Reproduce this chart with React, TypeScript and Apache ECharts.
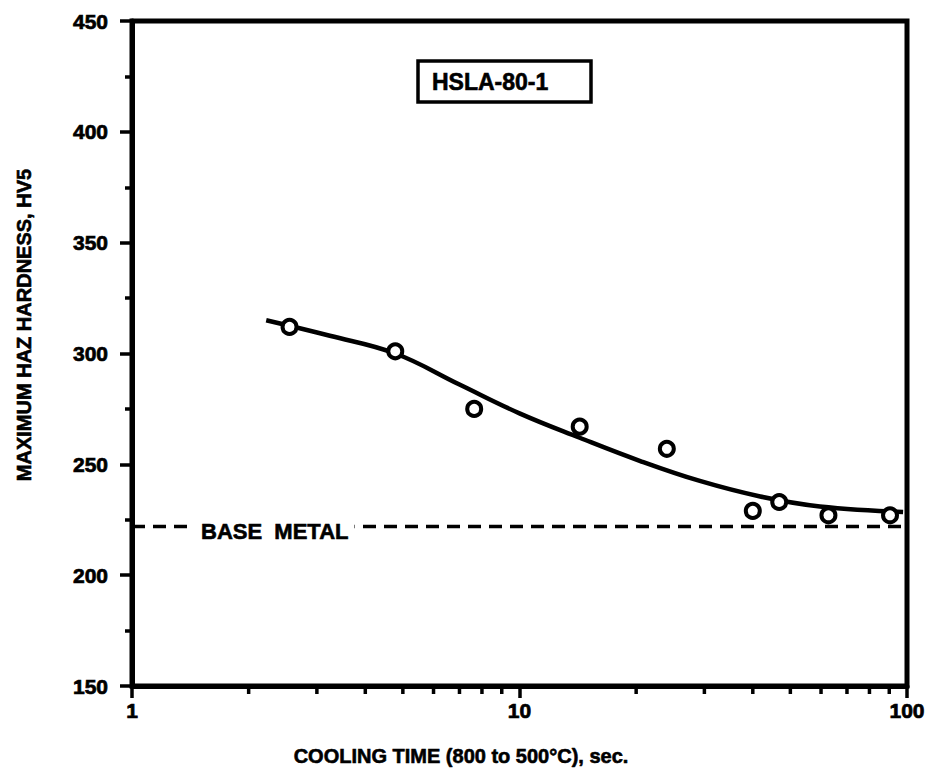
import React, { useEffect, useRef } from "react";
import * as echarts from "echarts";

// Measured data points (cooling time s, hardness HV5)
const pointX = [2.55, 4.78, 7.64, 14.3, 24.0, 40.0, 46.8, 62.7, 90.4];
const pointY = [312, 301, 275, 267, 257, 229, 233, 227, 227];

// Fitted trend curve
const curveX = [2.22, 3.24, 4.78, 7.0, 10.0, 14.3, 20.5, 29.2, 41.8, 59.6, 97.7];
const curveY = [315, 308, 300, 286, 273, 262, 251.5, 242.5, 235.5, 231, 228.5];

// Base metal hardness level
const baseMetalX = [1, 100];
const baseMetalY = [222, 222];

// Axis settings
const xMin = 1;
const xMax = 100;
const xMinorTicks = [2, 3, 4, 5, 6, 7, 8, 9, 20, 30, 40, 50, 60, 70, 80, 90];
const yMin = 150;
const yMax = 450;
const yInterval = 50;

// Texts
const xAxisTitle = "COOLING TIME (800 to 500°C), sec.";
const yAxisTitle = "MAXIMUM HAZ HARDNESS, HV5";
const boxLabel = "HSLA-80-1";
const baseLabel = "BASE  METAL";

const FONT = '"Liberation Sans", Arial, Helvetica, sans-serif';

export default function App() {
  const ref = useRef<HTMLDivElement>(null);

  useEffect(() => {
    document.body.style.margin = "0";
    if (!ref.current) return;
    const chart = echarts.init(ref.current, null, { renderer: "svg" });

    const black = "#000";
    const heavy = { textBorderColor: black, textBorderWidth: 0.7 };
    const option: any = {
      animation: false,
      backgroundColor: "#fff",
      grid: {
        left: 132,
        right: 32,
        top: 21,
        bottom: 85,
        show: true,
        borderColor: black,
        borderWidth: 5,
        backgroundColor: "transparent",
      },
      xAxis: {
        type: "log",
        logBase: 10,
        min: xMin,
        max: xMax,
        axisLine: { show: true, lineStyle: { color: black, width: 5 } },
        axisTick: { show: true, length: 12, lineStyle: { color: black, width: 3.5 } },
        axisLabel: {
          color: black,
          fontFamily: FONT,
          fontWeight: "bold",
          fontSize: 21,
          margin: 14,
          ...heavy,
        },
        splitLine: { show: false },
      },
      yAxis: {
        type: "value",
        min: yMin,
        max: yMax,
        interval: yInterval,
        axisLine: { show: true, lineStyle: { color: black, width: 5 } },
        axisTick: { show: true, length: 12, lineStyle: { color: black, width: 3.5 } },
        minorTick: { show: true, splitNumber: 2, length: 7, lineStyle: { color: black, width: 3.5 } },
        axisLabel: {
          color: black,
          fontFamily: FONT,
          fontWeight: "bold",
          fontSize: 21,
          margin: 24,
          ...heavy,
        },
        splitLine: { show: false },
        minorSplitLine: { show: false },
      },
      series: [
        {
          type: "line",
          data: baseMetalX.map((x, i) => [x, baseMetalY[i]]),
          showSymbol: false,
          silent: true,
          lineStyle: { color: black, width: 3.5, type: [13, 8] },
          z: 2,
        },
        {
          type: "line",
          data: curveX.map((x, i) => [x, curveY[i]]),
          smooth: 0.4,
          showSymbol: false,
          silent: true,
          lineStyle: { color: black, width: 4.5 },
          z: 3,
        },
        {
          type: "scatter",
          data: pointX.map((x, i) => [x, pointY[i]]),
          symbol: "circle",
          symbolSize: 14,
          itemStyle: { color: "#fff", borderColor: black, borderWidth: 4, opacity: 1 },
          z: 5,
        },
        {
          type: "scatter",
          data: xMinorTicks.map((v) => [v, yMin]),
          symbol: "rect",
          symbolSize: [3.5, 8],
          symbolOffset: [0, 4],
          itemStyle: { color: black, opacity: 1 },
          clip: false,
          silent: true,
          z: 1,
        },
      ],
      graphic: [
        {
          type: "text",
          x: 24,
          y: 325,
          rotation: Math.PI / 2,
          z: 100,
          style: {
            text: yAxisTitle,
            font: `bold 20px ${FONT}`,
            fill: black,
            stroke: black,
            lineWidth: 0.6,
            align: "center",
            verticalAlign: "middle",
          },
        },
        {
          type: "text",
          x: 461,
          y: 756,
          z: 100,
          style: {
            text: xAxisTitle,
            font: `bold 20px ${FONT}`,
            fill: black,
            stroke: black,
            lineWidth: 0.6,
            align: "center",
            verticalAlign: "middle",
          },
        },
        {
          type: "rect",
          z: 100,
          shape: { x: 418, y: 61, width: 173, height: 41 },
          style: { fill: "#fff", stroke: black, lineWidth: 3.5 },
        },
        {
          type: "text",
          x: 432,
          y: 82,
          z: 101,
          style: {
            text: boxLabel,
            font: `bold 23px ${FONT}`,
            fill: black,
            stroke: black,
            lineWidth: 0.6,
            align: "left",
            verticalAlign: "middle",
          },
        },
        {
          type: "text",
          x: 195,
          y: 531,
          z: 100,
          style: {
            text: baseLabel,
            font: `bold 22px ${FONT}`,
            fill: black,
            stroke: black,
            lineWidth: 0.6,
            align: "left",
            verticalAlign: "middle",
            backgroundColor: "#fff",
            padding: [0, 6],
          },
        },
      ],
    };

    chart.setOption(option);
    return () => chart.dispose();
  }, []);

  return <div ref={ref} style={{ width: 939, height: 771 }} />;
}
